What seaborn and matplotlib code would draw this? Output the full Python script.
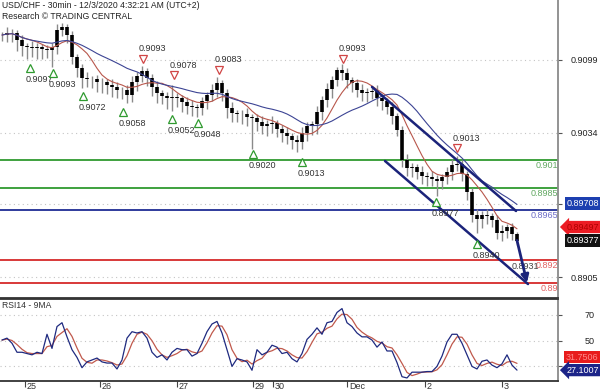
import matplotlib
matplotlib.use("Agg")
import matplotlib.pyplot as plt
import matplotlib.transforms as mtransforms
import numpy as np
import pandas as pd
import seaborn as sns

close = [0.91213, 0.91231, 0.91231, 0.91169, 0.91115, 0.91106, 0.91097, 0.91106, 0.91088, 0.91079,
         0.91106, 0.91258, 0.91285, 0.91213, 0.91017, 0.90918, 0.90829, 0.90820, 0.90820, 0.90793,
         0.90793, 0.90766, 0.90749, 0.90722, 0.90722, 0.90677, 0.90793, 0.90847, 0.90892, 0.90829,
         0.90749, 0.90695, 0.90668, 0.90650, 0.90659, 0.90650, 0.90615, 0.90579, 0.90570, 0.90561,
         0.90623, 0.90677, 0.90722, 0.90784, 0.90695, 0.90561, 0.90516, 0.90507, 0.90507, 0.90480,
         0.90471, 0.90436, 0.90400, 0.90418, 0.90427, 0.90373, 0.90337, 0.90311, 0.90275, 0.90257,
         0.90337, 0.90400, 0.90418, 0.90525, 0.90632, 0.90731, 0.90811, 0.90901, 0.90874, 0.90811,
         0.90784, 0.90722, 0.90695, 0.90704, 0.90713, 0.90650, 0.90623, 0.90570, 0.90489, 0.90364,
         0.90096, 0.90024, 0.90033, 0.89989, 0.89953, 0.89944, 0.89926, 0.89908, 0.89944, 0.89989,
         0.90051, 0.90060, 0.89971, 0.89810, 0.89604, 0.89569, 0.89604, 0.89595, 0.89560, 0.89443,
         0.89461, 0.89497, 0.89434, 0.89377]
# wick lengths in pips above / below the body
up_wick = [3, 5, 4, 3, 4, 3, 5, 4, 3, 4,
           4, 5, 4, 3, 4, 3, 4, 5, 3, 4,
           4, 3, 5, 4, 3, 4, 5, 4, 4, 3,
           4, 5, 3, 4, 11, 4, 3, 4, 5, 3,
           4, 3, 5, 5, 3, 4, 5, 3, 4, 5,
           3, 4, 5, 4, 6, 3, 4, 5, 3, 4,
           5, 4, 3, 5, 4, 5, 4, 3, 5, 4,
           3, 4, 5, 4, 3, 5, 4, 3, 4, 3,
           4, 5, 4, 3, 5, 4, 5, 4, 3, 4,
           5, 7, 4, 3, 4, 5, 4, 5, 3, 4,
           5, 3, 4, 2]
dn_wick = [5, 6, 8, 10, 9, 11, 8, 10, 9, 7,
           15, 6, 5, 7, 6, 8, 9, 7, 8, 9,
           10, 8, 9, 7, 8, 7, 6, 8, 5, 7,
           8, 9, 7, 10, 12, 8, 9, 7, 8, 8,
           6, 7, 5, 6, 7, 9, 8, 7, 9, 8,
           28, 8, 7, 9, 8, 7, 8, 7, 8, 9,
           6, 7, 8, 9, 7, 6, 8, 5, 6, 7,
           8, 6, 7, 8, 6, 7, 8, 6, 7, 5,
           6, 7, 8, 6, 7, 8, 6, 13, 7, 6,
           7, 5, 6, 7, 6, 13, 8, 7, 6, 5,
           7, 6, 5, 4]
rsi = [50.5, 52, 48, 41, 41, 40, 39, 41, 40, 55,
       44, 61, 64, 53, 43, 37, 29, 33.5, 35, 36.5,
       33.5, 32.6, 32.6, 28, 35, 52, 57, 56, 57, 52,
       41, 37, 39, 35, 41, 44, 43, 43, 38, 40,
       48, 57, 63, 65, 56, 43, 30, 36, 35, 33.5,
       27, 43, 39, 41, 46.5, 45, 40, 41, 36, 33.5,
       40, 51, 55, 60, 55, 64, 65, 72, 75, 64,
       61, 56, 53, 53, 50.5, 45, 49, 42, 42, 33,
       22, 21, 25.5, 25.5, 25.5, 26, 26, 30, 38, 49,
       55, 55, 48, 39, 30, 28, 34, 35, 31, 29,
       32, 39, 31, 27.1]

date_pos = [4.6, 19.6, 35, 50.2, 54.2, 69, 84.6, 100]
date_lbl = ["25", "26", "27", "29", "30", "Dec", "2", "3"]
price_ticks = [0.9099, 0.9034, 0.8970, 0.8905]
price_tick_lbl = ["0.9099", "0.9034", "", "0.8905"]

levels = [0.9010, 0.8985, 0.8965, 0.8920, 0.8900]
level_lbl = ["0.9010", "0.8985", "0.8965", "0.8920", "0.8900"]

sup_bar = [5.6, 10.2, 16.2, 24.2, 34, 39.2, 50.2, 60, 86.8, 95]
sup_val = [0.9097, 0.9093, 0.9072, 0.9058, 0.9052, 0.9048, 0.9020, 0.9013, 0.8977, 0.8940]
res_bar = [28.2, 34.4, 43.4, 68.2, 91]
res_val = [0.9093, 0.9078, 0.9083, 0.9093, 0.9013]

chan_upper = [(74, 0.90749), (102.8, 0.89640)]
chan_lower = [(76.6, 0.90087), (105.2, 0.88987)]
target_bar, target_val = 105, 0.8900
last_ma_fast, last_ma_slow, last_close = 0.89497, 0.89708, 0.89377
last_rsi_ma, last_rsi = 31.7506, 27.1007

sns.set_theme(style="white")
plt.rcParams["font.family"] = ["Liberation Sans", "DejaVu Sans"]

df = pd.DataFrame({"bar": np.arange(len(close)), "close": close,
                   "up": up_wick, "dn": dn_wick, "rsi": rsi})
df["open"] = df["close"].shift(1).fillna(df["close"])
df["top"] = df[["open", "close"]].max(axis=1)
df["bot"] = df[["open", "close"]].min(axis=1)
df["high"] = df["top"] + df["up"] * 1e-4
df["low"] = df["bot"] - df["dn"] * 1e-4
df["ma_fast"] = df["close"].rolling(7, min_periods=1).mean()
df["ma_slow"] = df["close"].rolling(17, min_periods=1).mean()
df["rsi_ma"] = df["rsi"].rolling(3, min_periods=1).mean()

W, H = 600, 392
fig = plt.figure(figsize=(6, 3.92), dpi=100)
ax = fig.add_axes([0, 1 - 298 / H, 557.5 / W, 298 / H])
ax2 = fig.add_axes([0, 1 - 381 / H, 557.5 / W, 82 / H], sharex=ax)

navy = "#1b237a"
green = "#2f9a2f"
red = "#d62a2a"

# ---- price panel
for lev, lab, c, tc, sh in zip(levels, level_lbl,
                               [green, green, "#1f2c94", red, red],
                               ["#62a862", "#62a862", "#6c6cc8", "#e26262", "#e26262"],
                               [-22, -27, -27, -22, -17]):
    ax.axhline(lev, color=c, lw=1.3, zorder=1.5)
    tr = mtransforms.blended_transform_factory(ax.transAxes, ax.transData)
    tr = tr + mtransforms.ScaledTranslation(sh / 100, -1 / 100, fig.dpi_scale_trans)
    ax.text(1, lev, lab, transform=tr, color=tc, fontsize=6.5, ha="left", va="top",
            clip_on=True, zorder=2)

ax.vlines(df["bar"], df["low"], df["high"], color="#8a8a8a", lw=1.0, zorder=2)
ax.vlines(df["bar"], df["bot"] - 0.00003, df["top"] + 0.00003, color="black", lw=2.6, zorder=3)
sns.lineplot(data=df, x="bar", y="ma_fast", ax=ax, color="#b8574c", lw=0.8, zorder=4)
sns.lineplot(data=df, x="bar", y="ma_slow", ax=ax, color="#3c4494", lw=0.8, zorder=4)

for pts in (chan_upper, chan_lower):
    ax.plot([p[0] for p in pts], [p[1] for p in pts], color=navy, lw=1.8, zorder=5)
ax.annotate("", xy=(target_bar, target_val), xytext=(df["bar"].iloc[-1], last_close),
            arrowprops=dict(arrowstyle="-|>", color=navy, lw=2, mutation_scale=11,
                            shrinkA=0, shrinkB=0), zorder=6)
ax.text(102, 0.8914, "0.8931", fontsize=6.5, color="#444", va="center", ha="left", zorder=2)

for b, v in zip(sup_bar, sup_val):
    ax.plot(b, v, marker="^", ms=5.5, mfc="white", mec=green, mew=0.9, ls="none", zorder=6,
            transform=mtransforms.offset_copy(ax.transData, fig=fig, y=-6, units="dots"))
    ax.text(b, v, f"{v:.4f}", fontsize=6.5, color="#333", ha="left", va="center", zorder=6,
            transform=mtransforms.offset_copy(ax.transData, fig=fig, x=-4, y=-17.5, units="dots"))
for b, v in zip(res_bar, res_val):
    ax.plot(b, v, marker="v", ms=5.5, mfc="white", mec="#d04545", mew=0.9, ls="none", zorder=6,
            transform=mtransforms.offset_copy(ax.transData, fig=fig, y=8, units="dots"))
    ax.text(b, v, f"{v:.4f}", fontsize=6.5, color="#333", ha="left", va="center", zorder=6,
            transform=mtransforms.offset_copy(ax.transData, fig=fig, x=-4, y=18, units="dots"))

ax.set_xlim(-0.4, 111.1)
ax.set_ylim(0.888623, 0.915263)
ax.set_yticks(price_ticks, price_tick_lbl)
ax.yaxis.tick_right()
ax.tick_params(axis="y", right=True, left=False, length=3, width=0.8, color="#555",
               labelsize=6.5, labelcolor="#222", pad=26)
plt.setp(ax.get_yticklabels(), ha="right")
ax.tick_params(axis="x", bottom=False, labelbottom=False)
ax.grid(axis="y", ls=(0, (1, 3)), color="#c4c4c4", lw=0.8)
ax.grid(axis="x", visible=False)
ax.set_xlabel("")
ax.set_ylabel("")
for s in ("left", "top"):
    ax.spines[s].set_visible(False)
ax.spines["right"].set_color("#8a8a8a")
ax.spines["right"].set_linewidth(1.3)
ax.spines["bottom"].set_color("#333")
ax.spines["bottom"].set_linewidth(1.3)

blend = mtransforms.blended_transform_factory(ax.transAxes, ax.transData)
ax.annotate(f"{last_ma_slow:.5f}", xy=(1, last_ma_slow), xycoords=blend, xytext=(9, 0),
            textcoords="offset pixels", fontsize=6.5, color="white", va="center", ha="left",
            bbox=dict(boxstyle="square,pad=0.18", fc="#1d3fb0", ec="none"), annotation_clip=False)
ax.annotate(f"{last_ma_fast:.5f}", xy=(1, last_ma_fast), xycoords=blend, xytext=(9, 0),
            textcoords="offset pixels", fontsize=6.5, color="#b00000", va="center", ha="left",
            bbox=dict(boxstyle="larrow,pad=0.18", fc="#ec1c24", ec="none"), annotation_clip=False)
ax.annotate(f"{last_close:.5f}", xy=(1, last_close), xycoords=blend, xytext=(9, 0),
            textcoords="offset pixels", fontsize=6.5, color="white", va="center", ha="left",
            bbox=dict(boxstyle="square,pad=0.18", fc="#111111", ec="none"), annotation_clip=False)

fig.text(2 / W, 1 - 6 / H, "USD/CHF - 30min - 12/3/2020 4:32:21 AM (UTC+2)",
         fontsize=6.2, color="#222", va="center", ha="left")
fig.text(2 / W, 1 - 16.5 / H, "Research \u00a9 TRADING CENTRAL",
         fontsize=6.2, color="#222", va="center", ha="left")

# ---- RSI panel
sns.lineplot(data=df, x="bar", y="rsi_ma", ax=ax2, color="#c0594c", lw=0.9)
sns.lineplot(data=df, x="bar", y="rsi", ax=ax2, color="#1f2a80", lw=0.9)
ax2.set_ylim(18.64, 82.45)
ax2.set_yticks([70, 50, 30], ["70", "50", ""])
ax2.yaxis.tick_right()
ax2.tick_params(axis="y", right=True, left=False, length=3, width=0.8, color="#555",
                labelsize=6.5, labelcolor="#222", pad=24)
plt.setp(ax2.get_yticklabels(), ha="right")
ax2.grid(axis="y", ls=(0, (1, 3)), color="#c4c4c4", lw=0.8)
ax2.grid(axis="x", visible=False)
ax2.set_xticks(date_pos, date_lbl)
ax2.tick_params(axis="x", bottom=True, length=4, width=0.8, color="#444", direction="out",
                labelsize=6.5, labelcolor="#333", pad=-3)
for lbl in ax2.get_xticklabels():
    lbl.set_ha("left")
    lbl.set_transform(lbl.get_transform() + mtransforms.ScaledTranslation(0.02, 0, fig.dpi_scale_trans))
ax2.set_xlabel("")
ax2.set_ylabel("")
ax2.spines["left"].set_visible(False)
for s in ("top", "bottom"):
    ax2.spines[s].set_color("#333")
    ax2.spines[s].set_linewidth(1.3)
ax2.spines["right"].set_color("#8a8a8a")
ax2.spines["right"].set_linewidth(1.3)
fig.text(2 / W, 1 - 305.5 / H, "RSI14 - 9MA", fontsize=6.2, color="#333", va="center", ha="left")

blend2 = mtransforms.blended_transform_factory(ax2.transAxes, ax2.transData)
ax2.annotate(f"{last_rsi_ma:.4f}", xy=(1, last_rsi_ma), xycoords=blend2, xytext=(8, 7),
             textcoords="offset pixels", fontsize=6.5, color="#ff8a8a", va="center", ha="left",
             bbox=dict(boxstyle="square,pad=0.18", fc="#e81c1c", ec="none"), annotation_clip=False)
ax2.annotate(f"{last_rsi:.4f}", xy=(1, last_rsi), xycoords=blend2, xytext=(9, 0),
             textcoords="offset pixels", fontsize=6.5, color="white", va="center", ha="left",
             bbox=dict(boxstyle="larrow,pad=0.18", fc="#1b2488", ec="none"), annotation_clip=False)

fig.savefig("out.png", dpi=100)
